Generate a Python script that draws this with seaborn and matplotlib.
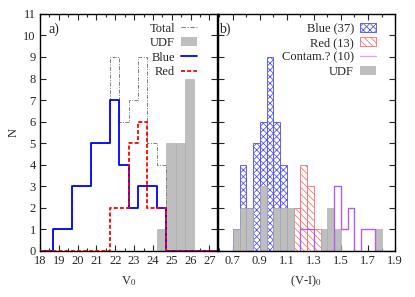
"""
Two-panel histogram: V0 magnitudes (a) and (V-I)0 colours (b)
"""

import numpy as np
import pandas as pd
import matplotlib
matplotlib.use("Agg")
import matplotlib.pyplot as plt
import seaborn as sns
from matplotlib.lines import Line2D
from matplotlib.patches import Patch

sns.set_style("ticks")
plt.rcParams['font.family'] = ['Liberation Serif', 'DejaVu Serif']
plt.rcParams['mathtext.fontset'] = 'stix'
plt.rcParams['hatch.linewidth'] = 0.55
plt.rcParams['font.size'] = 9

# ---- panel a: V0, 0.5 mag bins ----
v_edges = np.arange(17.7, 27.71, 0.5)
v_total = [0, 0, 1, 1, 3, 3, 5, 5, 9, 6, 7, 9, 5, 4, 0, 0, 0, 0, 0, 0]
v_blue = [0, 0, 1, 1, 3, 3, 5, 5, 7, 4, 2, 3, 3, 2, 0, 0, 0, 0, 0, 0]
v_red = [0, 0, 0, 0, 0, 0, 0, 0, 2, 2, 5, 6, 2, 2, 0, 0, 0, 0, 0, 0]
v_udf = [0, 0, 0, 0, 0, 0, 0, 0, 0, 0, 0, 0, 0, 1, 5, 5, 8, 0, 0, 0]

# ---- panel b: (V-I)0, 0.05 mag bins ----
c_edges = np.arange(0.55, 1.901, 0.05)
c_blue = [0, 0, 0, 1, 4, 2, 5, 6, 9, 6, 4, 0, 0, 0, 0, 0, 0, 0, 0, 0, 0, 0, 0, 0, 0, 0, 0]
c_red = [0, 0, 0, 0, 0, 0, 0, 0, 0, 0, 0, 0, 2, 4, 3, 1, 0, 0, 0, 0, 0, 0, 0, 0, 0, 0, 0]
c_contam = [0, 0, 0, 0, 0, 0, 0, 0, 0, 0, 0, 0, 0, 1, 1, 0, 0, 0, 3, 1, 2, 0, 1, 1, 0, 0, 0]
c_udf = [0, 0, 0, 1, 2, 2, 0, 3, 0, 2, 2, 2, 0, 0, 0, 0, 1, 2, 1, 0, 0, 0, 0, 0, 1, 0, 0]

blue_col = '#0000ff'
red_col = '#ff0000'
gray_col = '#bebebe'
purple_col = '#b060e0'


def hist(ax, edges, counts, **kw):
    n0 = len(ax.patches)
    df = pd.DataFrame({'x': (edges[:-1] + edges[1:]) / 2, 'w': counts})
    sns.histplot(data=df, x='x', weights='w', bins=list(edges), ax=ax, **kw)
    return ax.patches[n0:]


fig = plt.figure(figsize=(4.15, 2.97), dpi=100)
ax1 = fig.add_axes([0.0964, 0.156, 0.4265, 0.797])
ax2 = fig.add_axes([0.525, 0.156, 0.427, 0.797])

# panel a
for p in hist(ax1, v_edges, v_udf, element='bars', fill=True):
    p.set_facecolor(gray_col)
    p.set_edgecolor('#a8a8a8')
    p.set_linewidth(0.4)
    p.set_alpha(1)
hist(ax1, v_edges, v_total, element='step', fill=False, color='#808080',
     dashes=(4, 1.5, 1, 1.5), linewidth=0.7, alpha=1)
hist(ax1, v_edges, v_blue, element='step', fill=False, color=blue_col,
     linewidth=1.3, alpha=1, zorder=3)
hist(ax1, v_edges, v_red, element='step', fill=False, color=red_col,
     dashes=(2.2, 1.2), linewidth=1.3, alpha=1, zorder=3)

ax1.set_xlim(18, 27.4)
ax1.set_ylim(0, 11)
ax1.set_xticks(range(18, 28))
ax1.set_xticks(np.arange(18.5, 27.4, 1), minor=True)
ax1.set_yticks(range(0, 12))
ax1.set_xlabel('V$_0$', labelpad=5)
ax1.set_ylabel('N', labelpad=3)
ax1.text(0.05, 0.965, 'a)', transform=ax1.transAxes, va='top', ha='left', fontsize=10)

h1 = [Line2D([], [], color='#808080', dashes=(4, 1.5, 1, 1.5), lw=0.8),
      Patch(facecolor=gray_col, edgecolor='none'),
      Line2D([], [], color=blue_col, lw=1.3),
      Line2D([], [], color=red_col, dashes=(2.2, 1.2), lw=1.3)]
ax1.legend(h1, ['Total', 'UDF', 'Blue', 'Red'], loc='upper right',
           bbox_to_anchor=(0.925, 0.99), frameon=False, markerfirst=False,
           handlelength=1.3, handletextpad=0.5, labelspacing=0.2,
           borderpad=0, fontsize=9)

# panel b
for p in hist(ax2, c_edges, c_blue, element='bars', fill=False, color=blue_col):
    p.set_facecolor('white')
    p.set_edgecolor('#4a4aff')
    p.set_hatch('xxxxx')
    p.set_linewidth(0.6)
    p.set_alpha(1)
for p in hist(ax2, c_edges, c_red, element='bars', fill=False, color=red_col):
    p.set_facecolor('white')
    p.set_edgecolor('#ff6a6a')
    p.set_hatch('\\\\\\\\\\')
    p.set_linewidth(0.6)
    p.set_alpha(1)
for p in hist(ax2, c_edges, c_udf, element='bars', fill=True):
    p.set_facecolor(gray_col)
    p.set_edgecolor('#a8a8a8')
    p.set_linewidth(0.4)
    p.set_alpha(1)
hist(ax2, c_edges, c_contam, element='step', fill=False, color=purple_col,
     linewidth=1.0, alpha=1)

ax2.set_xlim(0.59, 1.9)
ax2.set_ylim(0, 11)
ax2.set_xticks(np.arange(0.7, 1.91, 0.2))
ax2.set_xticklabels(['0.7', '0.9', '1.1', '1.3', '1.5', '1.7', '1.9'])
ax2.set_xticks(np.arange(0.6, 1.85, 0.2), minor=True)
ax2.set_yticks(range(0, 12))
ax2.set_yticklabels([])
ax2.set_ylabel('')
ax2.set_xlabel('(V-I)$_0$', labelpad=5)
ax2.text(0.005, 0.965, 'b)', transform=ax2.transAxes, va='top', ha='left', fontsize=10)

h2 = [Patch(facecolor='white', edgecolor='#4a4aff', hatch='xxxxx', lw=0.6),
      Patch(facecolor='white', edgecolor='#ff6a6a', hatch='\\\\\\\\\\', lw=0.6),
      Line2D([], [], color='#d8a8f0', lw=1.0),
      Patch(facecolor=gray_col, edgecolor='none')]
ax2.legend(h2, ['Blue (37)', 'Red (13)', 'Contam.? (10)', 'UDF'], loc='upper right',
           bbox_to_anchor=(0.93, 0.99), frameon=False, markerfirst=False,
           handlelength=1.3, handletextpad=0.5, labelspacing=0.2,
           borderpad=0, fontsize=9)

for ax in (ax1, ax2):
    ax.tick_params(which='both', direction='in', top=True, right=True,
                   width=0.8, labelsize=9, pad=3)
    ax.tick_params(which='major', length=4)
    ax.tick_params(which='minor', length=2.5)
    for s in ax.spines.values():
        s.set_linewidth(1.0)
        s.set_color('black')

fig.savefig('out.png', dpi=100)
